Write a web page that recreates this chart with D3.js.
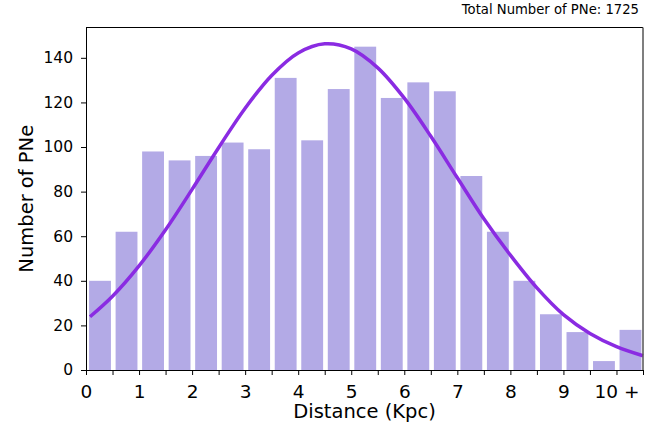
<!DOCTYPE html>
<html><head><meta charset="utf-8">
<script src="https://cdn.jsdelivr.net/npm/d3@7"></script>
<style>
html,body{margin:0;padding:0;background:#fff;}
svg{display:block;font-family:"DejaVu Sans",sans-serif;}
</style></head>
<body><svg id="c" width="670" height="428"></svg>
<script>
// ---- data ----
const binStarts = [0,0.5,1,1.5,2,2.5,3,3.5,4,4.5,5,5.5,6,6.5,7,7.5,8,8.5,9,9.5,10];
const counts = [40,62,98,94,96,102,99,131,103,126,145,122,129,125,87,62,40,25,17,4,18];
const fitX = [0.075,0.5,1,1.5,2,2.5,3,3.5,4,4.5,5,5.5,6,6.5,7,7.5,8,8.5,9,9.5,10,10.5];
const fitY = [23.9,33.1,46.7,62.9,81.0,99.7,117.4,132.1,142.2,146.3,144.0,135.5,121.9,104.8,86.2,67.8,51.5,36.8,24.8,16.4,10.5,6.4];
const xTickValues = [0,0.5,1,1.5,2,2.5,3,3.5,4,4.5,5,5.5,6,6.5,7,7.5,8,8.5,9,9.5,10,10.5];
const xTickLabels = {0:"0",1:"1",2:"2",3:"3",4:"4",5:"5",6:"6",7:"7",8:"8",9:"9",10:"10 +"};
const yTickValues = [0,20,40,60,80,100,120,140];
const totalLabel = "Total Number of PNe: 1725";
const xLabel = "Distance (Kpc)";
const yLabel = "Number of PNe";

// ---- layout ----
const L = 86, R = 643, T = 27.5, B = 370;
const svg = d3.select("#c");
const x = d3.scaleLinear().domain([0, 10.5]).range([L, R]);
const y = d3.scaleLinear().domain([0, 153.6]).range([B, T]);
const barOff = 0.058, barW = 0.412;

svg.append("g").selectAll("rect").data(binStarts).join("rect")
  .attr("x", (d) => x(d + barOff))
  .attr("width", x(barW) - x(0))
  .attr("y", (d, i) => y(counts[i]))
  .attr("height", (d, i) => y(0) - y(counts[i]))
  .attr("fill", "#b3aae6");

const line = d3.line().x((d) => x(d[0])).y((d) => y(d[1])).curve(d3.curveCatmullRom);
svg.append("path").datum(fitX.map((v, i) => [v, fitY[i]]))
  .attr("d", line).attr("fill", "none")
  .attr("stroke", "#8a2be2").attr("stroke-width", 3.5).attr("stroke-linecap", "butt");

// spines
svg.append("line").attr("x1", L).attr("x2", R).attr("y1", T).attr("y2", T).attr("stroke", "#000").attr("stroke-width", 1);
svg.append("line").attr("x1", R).attr("x2", R).attr("y1", T).attr("y2", B).attr("stroke", "#555").attr("stroke-width", 1.5);

// axes
const xAxis = d3.axisBottom(x).tickValues(xTickValues).tickSize(5).tickSizeOuter(0).tickPadding(6)
  .tickFormat((d) => xTickLabels[d] !== undefined ? xTickLabels[d] : "");
const gx = svg.append("g").attr("transform", `translate(0,${B})`).call(xAxis);
gx.selectAll("text").attr("font-size", 18.5).attr("font-family", "DejaVu Sans").attr("fill", "#000").attr("dy", "0.9em");
gx.selectAll("line").attr("stroke", "#000");
gx.select(".domain").attr("stroke", "#000");

const yAxis = d3.axisLeft(y).tickValues(yTickValues).tickSize(5).tickSizeOuter(0).tickPadding(8);
const gy = svg.append("g").attr("transform", `translate(${L},0)`).call(yAxis);
gy.selectAll("text").attr("font-size", 15.5).attr("font-family", "DejaVu Sans").attr("fill", "#000");
gy.selectAll("line").attr("stroke", "#000");
gy.select(".domain").attr("stroke", "#000").attr("d", `M0.5,${B}V${T}`);

svg.append("text").attr("x", (L + R) / 2).attr("y", 418).attr("text-anchor", "middle")
  .attr("font-size", 19.5).text(xLabel);
svg.append("text").attr("transform", `translate(33,${(T + B) / 2}) rotate(-90)`).attr("text-anchor", "middle")
  .attr("font-size", 19.5).text(yLabel);
svg.append("text").attr("x", 639).attr("y", 14).attr("text-anchor", "end")
  .attr("font-size", 13.2).text(totalLabel);
</script></body></html>
